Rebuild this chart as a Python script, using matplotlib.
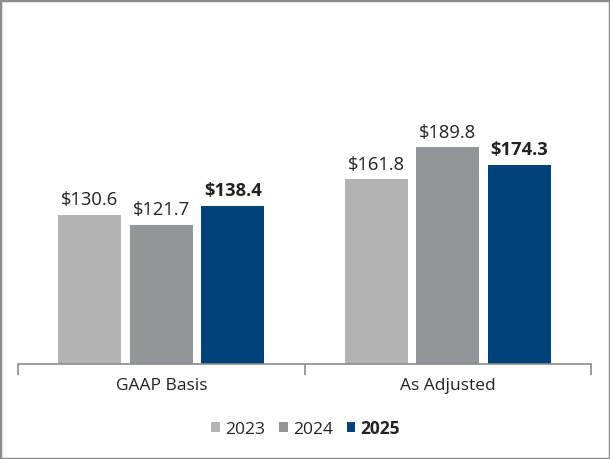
import numpy as np
import matplotlib
matplotlib.use("Agg")
import matplotlib.pyplot as plt
from matplotlib.patches import Rectangle

categories = ["GAAP Basis", "As Adjusted"]
years = ["2023", "2024", "2025"]
values_2023 = [130.6, 161.8]
values_2024 = [121.7, 189.8]
values_2025 = [138.4, 174.3]
colors = ["#b3b3b3", "#939598", "#00427a"]

plt.rcParams["font.family"] = ["Open Sans", "DejaVu Sans"]

fig = plt.figure(figsize=(6.10, 4.59), dpi=100)
ax = fig.add_axes([18 / 610, 1 - 364 / 459, 573 / 610, 340 / 459])

x = np.arange(len(categories))
width = 0.22
step = 0.25
series = [values_2023, values_2024, values_2025]
for i, (yr, vals, col) in enumerate(zip(years, series, colors)):
    pos = x + (i - 1) * step
    bars = ax.bar(pos, vals, width, color=col, label=yr)
    for b, v in zip(bars, vals):
        ax.text(b.get_x() + b.get_width() / 2, v + 8.5, f"${v:.1f}",
                ha="center", va="baseline", fontsize=13.2,
                color="#222222", fontweight="bold" if yr == "2025" else "normal")

ax.set_xlim(-0.5, 1.5)
ax.set_ylim(0, 298)
for s in ["top", "right", "left"]:
    ax.spines[s].set_visible(False)
ax.spines["bottom"].set_color("#8c8c8c")
ax.spines["bottom"].set_linewidth(1.2)
ax.set_yticks([])
ax.set_xticks(x)
ax.set_xticklabels(categories, fontsize=12.5, color="#222222")
ax.tick_params(axis="x", which="major", length=0, pad=10)
ax.set_xticks([-0.5, 0.5, 1.5], minor=True)
ax.tick_params(axis="x", which="minor", length=8, width=1.2, color="#8c8c8c", direction="out")

leg = ax.legend(loc="center", bbox_to_anchor=(0.502, -0.19), ncol=3, frameon=False,
                fontsize=12.5, handlelength=0.5, handleheight=0.5,
                handletextpad=0.3, columnspacing=0.8)
for t in leg.get_texts():
    t.set_color("#222222")
leg.get_texts()[2].set_fontweight("bold")

fig.patches.append(Rectangle((0, 0), 1, 1, transform=fig.transFigure,
                             fill=False, edgecolor="#8c8c8c", linewidth=2.5))

fig.savefig("out.png", dpi=100)
